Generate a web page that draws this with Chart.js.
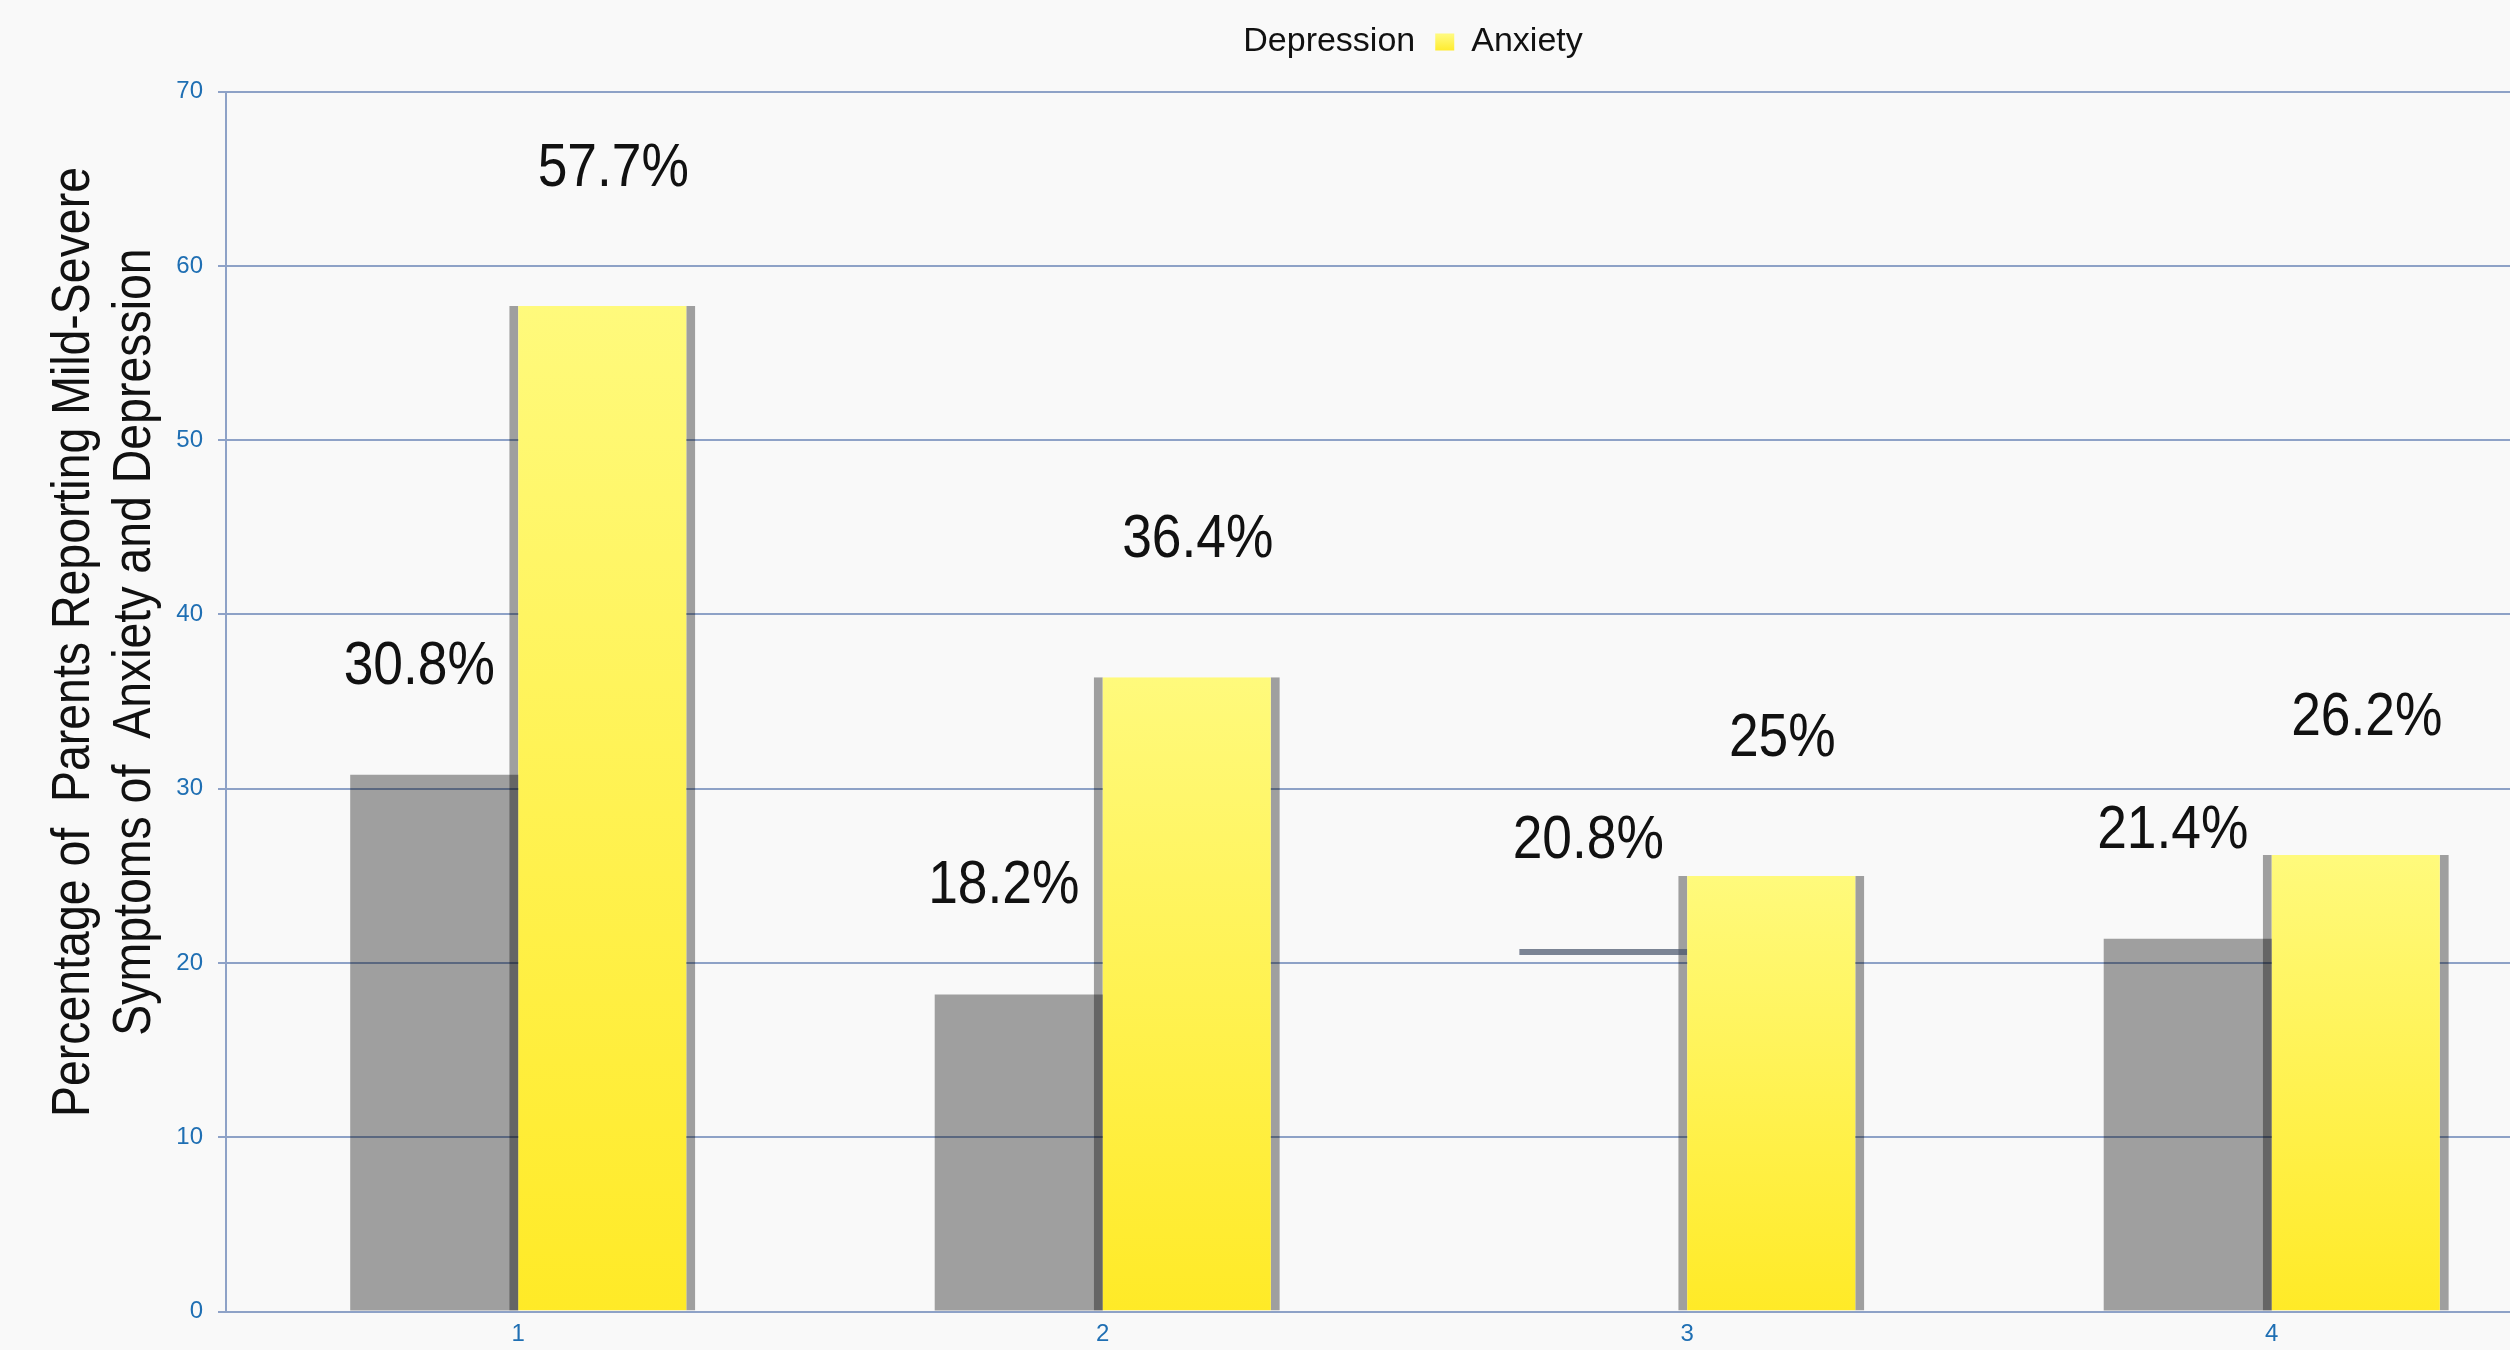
<!DOCTYPE html>
<html>
<head>
<meta charset="utf-8">
<script src="https://cdn.jsdelivr.net/npm/chart.js@4.4.1/dist/chart.umd.min.js"></script>
<style>
html,body{margin:0;padding:0;background:#f9f9f9;overflow:hidden;width:2510px;height:1350px}
#wrap{width:2510px;height:1350px;overflow:hidden;position:relative}
canvas{display:block}
</style>
</head>
<body>
<div id="wrap"><canvas id="c" width="2566" height="1350" style="width:2566px;height:1350px"></canvas></div>
<script>
// ---- data ----
const categories = ['1', '2', '3', '4'];
const seriesNames = ['Depression', 'Anxiety'];
const depressionValues = [30.8, 18.2, 20.8, 21.4];
const anxietyValues = [57.7, 36.4, 25, 26.2];
const yTickValues = [0, 10, 20, 30, 40, 50, 60, 70];
const yTitleLines = ['Percentage of  Parents Reporting Mild-Severe', 'Symptoms of  Anxiety and Depression'];

// ---- styles ----
const BG = '#f9f9f9';
const GRID = '#8ea2c7';
const TICK_BLUE = '#1f6fb3';
const SHADOW = 'rgba(0,0,0,0.36)';
const FONT = '"Liberation Sans", Arial, sans-serif';

function yellowGradient(chart, top, bottom) {
  const g = chart.ctx.createLinearGradient(0, top, 0, bottom);
  g.addColorStop(0, '#fffa7c');
  g.addColorStop(1, '#ffea27');
  return g;
}

const bgPlugin = {
  id: 'bg',
  beforeDraw(chart) {
    const c = chart.ctx;
    c.save();
    c.fillStyle = BG;
    c.fillRect(0, 0, chart.width, chart.height);
    c.restore();
  }
};

const yTitlePlugin = {
  id: 'yTitle',
  afterDraw(chart) {
    const c = chart.ctx;
    const xs = [89, 150];
    c.save();
    c.fillStyle = '#111111';
    c.font = '54px ' + FONT;
    c.textAlign = 'center';
    c.textBaseline = 'alphabetic';
    yTitleLines.forEach((line, k) => {
      c.save();
      c.translate(xs[k], 642);
      c.rotate(-Math.PI / 2);
      c.scale(0.86, 1);
      c.fillText(line, 0, 0);
      c.restore();
    });
    c.restore();
  }
};

const valueLabelPlugin = {
  id: 'valueLabels',
  afterDatasetsDraw(chart) {
    const c = chart.ctx;
    chart.data.datasets.forEach((ds, di) => {
      const meta = chart.getDatasetMeta(di);
      const dx = di === 0 ? -15 : 11;
      const dy = di === 0 ? 108 : 137;
      meta.data.forEach((bar, i) => {
        c.save();
        c.translate(bar.x + dx, bar.y - dy);
        c.scale(0.86, 1);
        c.font = '62px ' + FONT;
        c.fillStyle = '#111111';
        c.textAlign = 'center';
        c.textBaseline = 'middle';
        c.fillText(ds.data[i] + '%', 0, 0);
        c.restore();
      });
    });
  }
};

const CAT_PCT = 0.575;

new Chart(document.getElementById('c'), {
  type: 'bar',
  data: {
    labels: categories,
    datasets: [
      {
        label: seriesNames[0],
        data: depressionValues,
        backgroundColor: (ctx) => ctx.dataIndex === 2 ? 'rgba(0,0,0,0)' : SHADOW,
        borderColor: 'rgba(70,82,105,0.7)',
        borderWidth: (ctx) => ctx.dataIndex === 2 ? {top: 6, left: 0, right: 0, bottom: 0} : 0,
        borderSkipped: 'start',
        categoryPercentage: CAT_PCT,
        barPercentage: 1.0
      },
      {
        label: seriesNames[1],
        data: anxietyValues,
        backgroundColor: (ctx) => {
          const chart = ctx.chart;
          if (!chart.chartArea || !ctx.parsed) return '#fff350';
          const y = chart.scales.y;
          return yellowGradient(chart, y.getPixelForValue(ctx.parsed.y), y.getPixelForValue(0));
        },
        borderColor: SHADOW,
        borderWidth: {left: 9, right: 9, top: 0, bottom: 0},
        borderSkipped: 'start',
        categoryPercentage: CAT_PCT,
        barPercentage: 186 / 168
      }
    ]
  },
  options: {
    responsive: false,
    devicePixelRatio: 1,
    animation: false,
    events: [],
    layout: {padding: {top: 5, left: 0, right: 2, bottom: 0}},
    plugins: {
      tooltip: {enabled: false},
      title: {
        display: true, text: '', weight: 500, fullSize: false,
        font: {size: 10, lineHeight: 1}, padding: {top: 0, bottom: 12.6}
      },
      legend: {
        position: 'top',
        fullSize: false,
        align: 'center',
        labels: {
          font: {family: FONT, size: 34},
          color: '#111111',
          boxWidth: 19,
          boxHeight: 17,
          padding: 20,
          generateLabels(chart) {
            return chart.data.datasets.map((ds, i) => ({
              text: ds.label,
              fillStyle: i === 0 ? 'rgba(0,0,0,0)' : yellowGradient(chart, 35, 52),
              strokeStyle: 'rgba(0,0,0,0)',
              lineWidth: 0,
              hidden: false,
              datasetIndex: i,
              fontColor: '#111111'
            }));
          }
        }
      }
    },
    scales: {
      x: {
        afterFit(scale) { scale.height = 38.4; },
        grid: {display: false, drawTicks: false},
        border: {display: false},
        ticks: {color: TICK_BLUE, font: {family: FONT, size: 24}, padding: 8}
      },
      y: {
        min: yTickValues[0],
        max: yTickValues[yTickValues.length - 1],
        afterFit(scale) { scale.width = 226; },
        ticks: {
          stepSize: yTickValues[1] - yTickValues[0],
          color: TICK_BLUE,
          font: {family: FONT, size: 24},
          padding: 15
        },
        grid: {color: GRID, lineWidth: 2, tickLength: 8, drawTicks: true},
        border: {display: true, color: GRID, width: 2}
      }
    }
  },
  plugins: [bgPlugin, yTitlePlugin, valueLabelPlugin]
});
</script>
</body>
</html>
